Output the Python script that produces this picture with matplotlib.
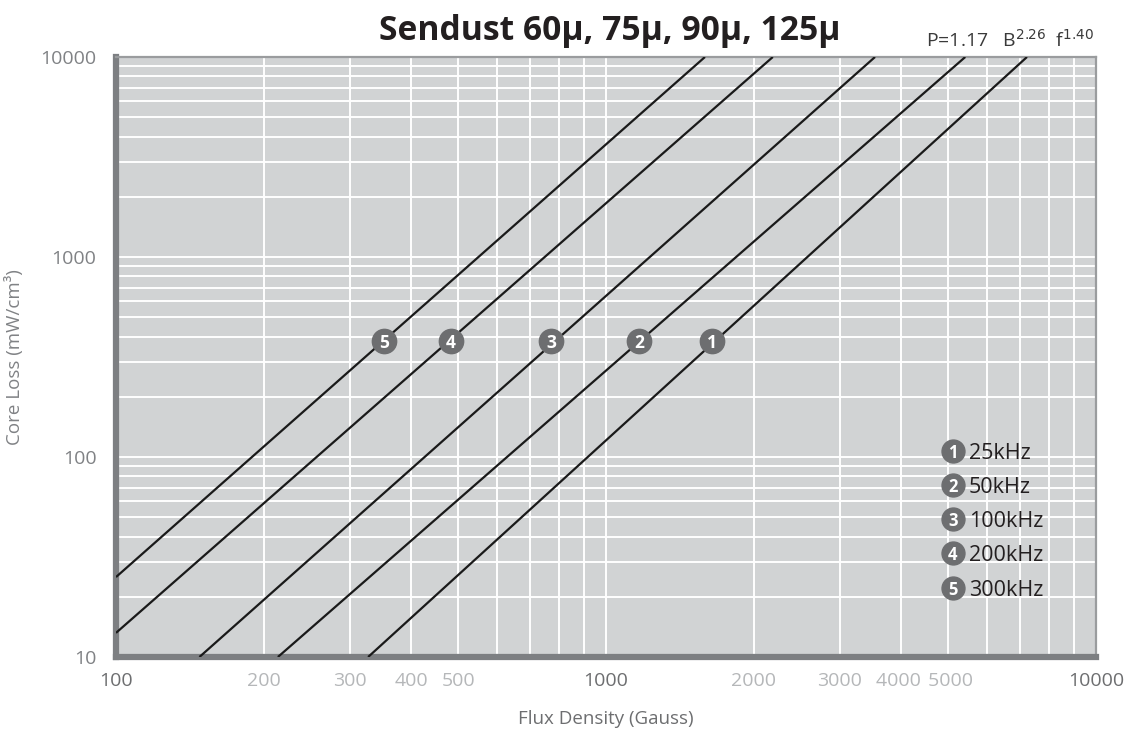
import matplotlib
matplotlib.use("Agg")
import matplotlib.pyplot as plt
from matplotlib import font_manager as fm
import matplotlib.ticker as mt

# ---- data ----
freq_labels = ["25kHz", "50kHz", "100kHz", "200kHz", "300kHz"]
marker_nums = ["1", "2", "3", "4", "5"]
# straight lines on log-log axes: two end points each (Gauss, mW/cm3)
line_b0 = [327, 214, 148, 100, 100]
line_p0 = [10, 10, 10, 13.2, 25.1]
line_b1 = [7230, 5410, 3540, 2190, 1592]
line_p1 = [10000, 10000, 10000, 10000, 10000]
# numbered markers on the lines
marker_b = [1644, 1167, 773, 483, 352]
marker_p = [380, 380, 380, 380, 380]
x_ticks = [100, 200, 300, 400, 500, 1000, 2000, 3000, 4000, 5000, 10000]
x_tick_labels = ["100", "200", "300", "400", "500", "1000", "2000", "3000", "4000 ", " 5000", "10000"]
y_ticks = [10, 100, 1000, 10000]
y_tick_labels = ["10", "100", "1000", "10000"]


def have(name):
    try:
        fm.findfont(fm.FontProperties(family=name), fallback_to_default=False)
        return True
    except Exception:
        return False

base_font = "Open Sans" if have("Open Sans") else "DejaVu Sans"
title_font = "Liberation Sans Narrow" if have("Liberation Sans Narrow") else base_font
plt.rcParams['font.family'] = [base_font, 'DejaVu Sans']

W, H = 1139, 738
fig = plt.figure(figsize=(W / 100, H / 100), dpi=100)
L, R, T, B = 116, 1096, 57, 657
ax = fig.add_axes([L / W, 1 - B / H, (R - L) / W, (B - T) / H])
ax.set_xscale('log')
ax.set_yscale('log')
ax.set_xlim(100, 10000)
ax.set_ylim(10, 10000)
ax.set_facecolor('#d1d3d4')

ax.grid(True, which='both', color='white', linewidth=1.4)
ax.set_axisbelow(True)

for b0, p0, b1, p1 in zip(line_b0, line_p0, line_b1, line_p1):
    ax.plot([b0, b1], [p0, p1], color='#1a1a1a', linewidth=1.6, zorder=3, solid_capstyle='butt')

for bx, py, n in zip(marker_b, marker_p, marker_nums):
    ax.plot([bx], [py], 'o', markersize=17.5, color='#6d6e70', markeredgecolor='#6d6e70', zorder=4)
    ax.text(bx, py, n, color='white', fontsize=12.5, fontweight='bold', ha='center', va='center_baseline', zorder=5)

# legend
leg_x = (953 - L) / (R - L)
leg_y = [(B - y) / (B - T) for y in [451, 485, 519, 553, 588]]
for yy, n, lab in zip(leg_y, marker_nums, freq_labels):
    ax.plot([leg_x], [yy], 'o', transform=ax.transAxes, markersize=16.5, color='#6d6e70', zorder=4, clip_on=False)
    ax.text(leg_x, yy, n, transform=ax.transAxes, color='white', fontsize=12, fontweight='bold', ha='center', va='center_baseline', zorder=5)
    ax.text(leg_x + 16 / (R - L), yy, lab, transform=ax.transAxes, color='#231f20', fontsize=15.5, ha='left', va='center_baseline', zorder=5)

# spines
for s in ['left', 'bottom']:
    ax.spines[s].set_color('#7d7f82')
    ax.spines[s].set_linewidth(4.5)
for s in ['top', 'right']:
    ax.spines[s].set_color('#9a9c9e')
    ax.spines[s].set_linewidth(1.6)

ax.set_xticks(x_ticks)
ax.set_xticklabels(x_tick_labels)
ax.set_yticks(y_ticks)
ax.set_yticklabels(y_tick_labels)
ax.xaxis.set_minor_locator(mt.LogLocator(base=10, subs=range(2, 10)))
ax.yaxis.set_minor_locator(mt.LogLocator(base=10, subs=range(2, 10)))
ax.xaxis.set_minor_formatter(mt.NullFormatter())
ax.yaxis.set_minor_formatter(mt.NullFormatter())
ax.tick_params(which='both', length=0)
ax.tick_params(axis='x', pad=11, labelsize=14)
ax.tick_params(axis='y', pad=14, labelsize=14)

for lab, v in zip(ax.get_xticklabels(), x_ticks):
    lab.set_color('#6d6e70' if v in (100, 1000, 10000) else '#b5b7b9')
for lab in ax.get_yticklabels():
    lab.set_color('#808285')

ax.set_xlabel('Flux Density (Gauss)', color='#6d6e70', fontsize=13.5, labelpad=14)
ax.set_ylabel('Core Loss (mW/cm³)', color='#808285', fontsize=13.5, labelpad=12)

# title, fitted to width in the reference
title = fig.text(610 / W, 1 - 31 / H, 'Sendust 60µ, 75µ, 90µ, 125µ', ha='center', va='center',
                 fontsize=24, fontweight='bold', color='#231f20', family=[title_font, 'DejaVu Sans'])
fig.canvas.draw()
r = fig.canvas.get_renderer()
w = title.get_window_extent(r).width
title.set_fontsize(24 * 462 / w)

fig.text(926 / W, 1 - 47 / H, r'P=1.17   B$^{2.26}$  f$^{1.40}$', ha='left', va='baseline',
         fontsize=14, color='#3a3a3a')

fig.savefig('out.png', dpi=100)
